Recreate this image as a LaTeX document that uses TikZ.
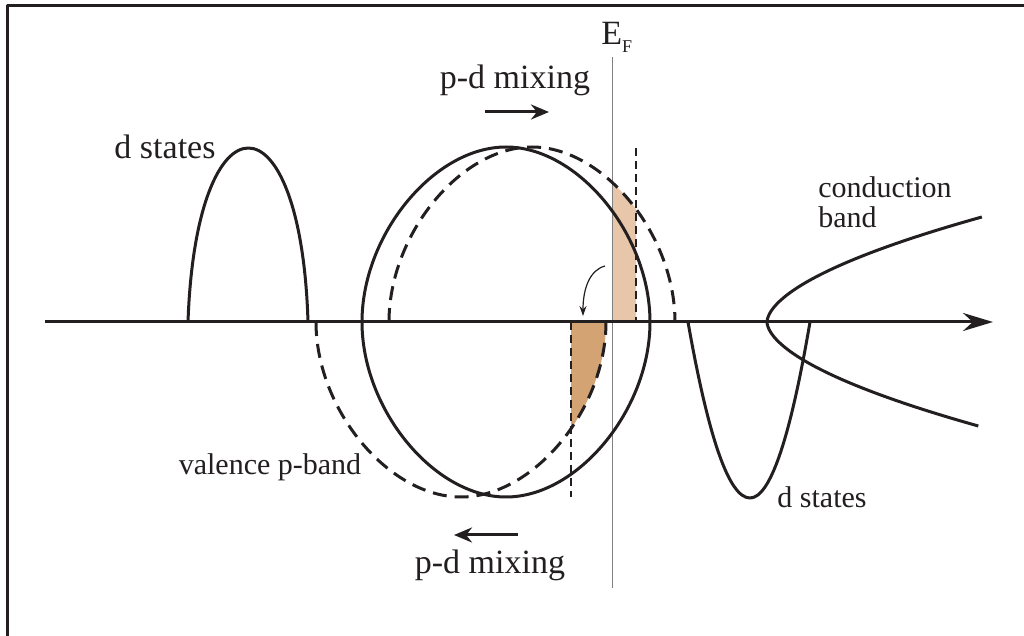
\documentclass[tikz,border=0pt]{standalone}
\usepackage{fontspec}
\setmainfont{Liberation Serif}
\usetikzlibrary{arrows.meta}
\definecolor{ink}{HTML}{231F20}
\definecolor{lightfill}{HTML}{E8C6AA}
\definecolor{darkfill}{HTML}{D4A373}
\begin{document}
\begin{tikzpicture}[x=0.5pt,y=-0.5pt,line join=round,
  curve/.style={draw=ink,line width=1.5pt},
  dcurve/.style={curve,dash pattern=on 7pt off 4pt},
  guide/.style={draw=ink,line width=0.6pt,dash pattern=on 4pt off 2.5pt},
  lbig/.style={font=\fontsize{17}{19}\selectfont,text=ink,inner sep=0pt},
  lsmall/.style={font=\fontsize{15}{17}\selectfont,text=ink,inner sep=0pt}]
\useasboundingbox (0,0) rectangle (1024,636);
\fill[white] (0,0) rectangle (1024,636);
% frame (left and top edges)
\draw[ink,line width=1.5pt] (7,640) -- (7,6) -- (1024,6);
% shaded regions
\begin{scope}
  \clip (612,100) rectangle (636,322);
  \fill[lightfill] (389,322) .. controls (389,234.5) and (460.5,147) .. (532,147)
     .. controls (603.5,147) and (675,234.5) .. (675,322) -- cycle;
\end{scope}
\begin{scope}
  \clip (571,322) rectangle (620,520);
  \fill[darkfill] (316,322) .. controls (316,409.5) and (388.5,497) .. (461,497)
     .. controls (533.5,497) and (606,409.5) .. (606,322) -- cycle;
\end{scope}
% Fermi level line
\coordinate (efT) at (612,57);
\coordinate (efB) at (612,588);
\draw[gray,line width=0.5pt] (efT) -- (efB);
\node[lbig,anchor=base west] (ef) at (601,45) {E\raisebox{-4pt}{\fontsize{9}{10}\selectfont F}};
% guide dashed verticals
\coordinate (g1T) at (636,148);
\coordinate (g1B) at (636,322);
\coordinate (g2T) at (571,322);
\coordinate (g2B) at (571,497);
\draw[guide] (g1T) -- (g1B);
\draw[guide] (g2T) -- (g2B);
% solid p band
\draw[curve] (362,322) .. controls (362,234.5) and (434,147) .. (506,147)
   .. controls (578,147) and (650,234.5) .. (650,322)
   .. controls (650,409.5) and (578,497) .. (506,497)
   .. controls (434,497) and (362,409.5) .. (362,322) -- cycle;
% dashed shifted bands
\draw[dcurve] (389,322) .. controls (389,234.5) and (460.5,147) .. (532,147)
   .. controls (603.5,147) and (675,234.5) .. (675,322);
\draw[dcurve] (316,322) .. controls (316,409.5) and (388.5,497) .. (461,497)
   .. controls (533.5,497) and (606,409.5) .. (606,322);
% d states
\draw[curve] (188,322) .. controls (196,90) and (301,90) .. (308,322);
\draw[curve] (688,322) .. controls (708.7,439.3) and (729.3,498) .. (750,498)
   .. controls (770,498) and (790,439.3) .. (810,322);
% conduction band
\draw[curve] plot[domain=-105:104,samples=81,smooth] ({767+0.0624*pow(abs(\x),1.75)},{322+\x});
% axis
\coordinate (axS) at (45,322);
\coordinate (axE) at (993,322);
\draw[curve,-{Stealth[length=15pt,width=9pt]}] (axS) -- (axE);
% small curved arrow
\coordinate (caS) at (605,266);
\coordinate (caE) at (583,316);
\draw[ink,line width=0.6pt,-{Stealth[length=5pt,width=3.5pt]}] (caS) .. controls (590,270) and (583,288) .. (caE);
% p-d mixing arrows
\coordinate (aU1) at (485,112);
\coordinate (aU2) at (549,112);
\coordinate (aL1) at (518,535);
\coordinate (aL2) at (454,535);
\draw[curve,-{Stealth[length=9pt,width=7.5pt]}] (aU1) -- (aU2);
\draw[curve,-{Stealth[length=9pt,width=7.5pt]}] (aL1) -- (aL2);
% labels
\node[lbig] (mixU) at (515,80) {p-d mixing};
\node[lbig] (mixL) at (490,565) {p-d mixing};
\node[lbig] (dU) at (165,147) {d states};
\node[lsmall] (val) at (270,467) {valence p-band};
\node[lsmall] (dL) at (822,497) {d states};
\node[lsmall,anchor=west] (cond1) at (818,187) {conduction};
\node[lsmall,anchor=west] (cond2) at (818,217) {band};
\end{tikzpicture}
\end{document}
